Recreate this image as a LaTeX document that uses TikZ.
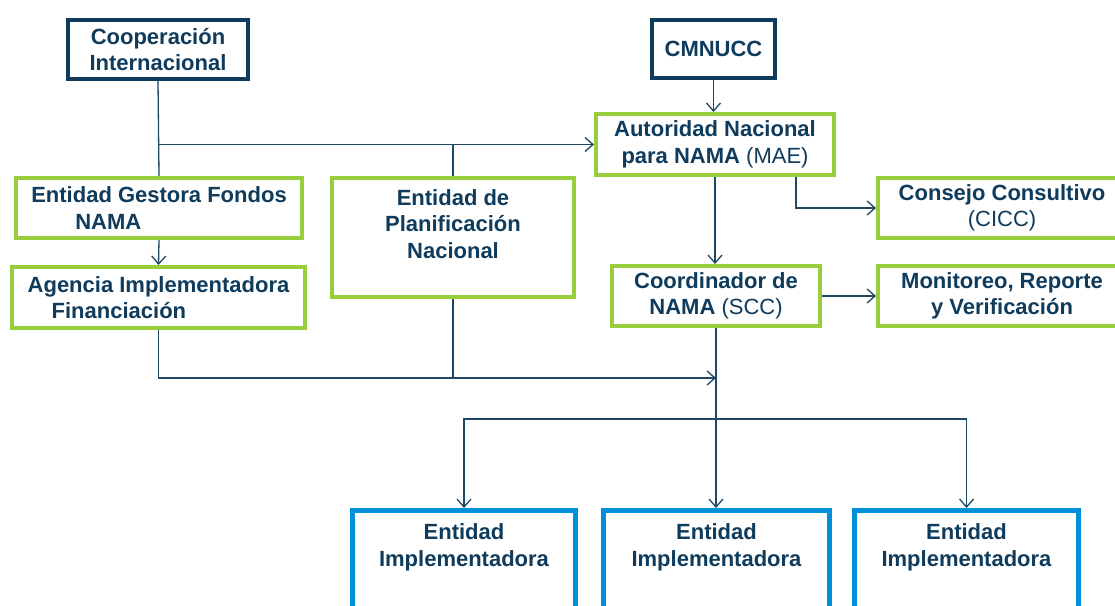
\documentclass[tikz,border=0pt]{standalone}
\usepackage{fontspec}
\setmainfont{Liberation Sans}
\usetikzlibrary{arrows.meta,calc}
\definecolor{navy}{HTML}{0F3B5C}
\definecolor{linec}{HTML}{1F4866}
\definecolor{grn}{HTML}{98CE3C}
\definecolor{blu}{HTML}{0090DA}
\tikzset{
  txt/.style={text=navy, font=\fontsize{22}{26.5}\selectfont\bfseries, align=center, inner sep=0pt},
  navybox/.style={draw=navy, line width=4pt, fill=white, inner sep=0pt, text=navy,
     font=\fontsize{22}{26.5}\selectfont\bfseries, align=center},
  gbox/.style={draw=grn, line width=4pt, fill=white, inner sep=0pt, text=navy,
     font=\fontsize{22}{26.5}\selectfont\bfseries, align=center},
  bbox/.style={draw=blu, line width=5pt, fill=white, inner sep=0pt},
  conn/.style={draw=linec, line width=1.3pt},
  arr/.style={conn, -{Straight Barb[length=8pt,width=14pt,line width=1.3pt]}},
}
\begin{document}
\begin{tikzpicture}[x=1pt,y=-1pt]
\useasboundingbox (0,0) rectangle (1115,605);
\clip (0,0) rectangle (1115,605);
% boxes
\node[navybox, minimum width=180, minimum height=59] (coop) at (158,49.5) {Cooperación\\Internacional};
\node[navybox, minimum width=123, minimum height=58] (cmn) at (713.5,49) {CMNUCC};
\node[gbox, minimum width=238, minimum height=61] (aut) at (715,144.5) {Autoridad Nacional\\para NAMA {\mdseries(MAE)}};
\node[gbox, minimum width=248, minimum height=60] (cons) at (1002,208) {Consejo Consultivo\\{\mdseries(CICC)}};
\node[gbox, minimum width=208, minimum height=60] (coord) at (716,296) {Coordinador de\\NAMA {\mdseries(SCC)}};
\node[gbox, minimum width=248, minimum height=60] (mon) at (1002,296) {Monitoreo, Reporte\\y Verificación};
\node[gbox, minimum width=286, minimum height=60, align=left] (gest) at (159,208) {Entidad Gestora Fondos\\\hspace*{44pt}NAMA};
\node[gbox, minimum width=293, minimum height=61, align=left] (agen) at (158.5,297.5) {Agencia Implementadora\\\hspace*{24pt}Financiación};
\node[gbox, minimum width=242, minimum height=119] (plan) at (453,237.5) {};
\node[txt] (plant) at (453,224) {Entidad de\\Planificación\\Nacional};
\node[bbox, minimum width=223, minimum height=140] (e1) at (464,580.5) {};
\node[bbox, minimum width=226, minimum height=140] (e2) at (716.5,580.5) {};
\node[bbox, minimum width=224, minimum height=140] (e3) at (966.5,580.5) {};
\node[txt] (e1t) at (464,547.5) {Entidad\\Implementadora};
\node[txt] (e2t) at (716.5,547.5) {Entidad\\Implementadora};
\node[txt] (e3t) at (966.5,547.5) {Entidad\\Implementadora};
% coordinates
\coordinate (mid) at ($(coord.south)+(0,50)$);
\coordinate (br) at ($(coord.south)+(0,91)$);
\coordinate (kink) at ($(aut.south)+(81,0)$);
% connectors
\draw[conn] (coop.south) -- (gest.north);
\draw[arr] (coop.south |- aut.west) -- (aut.west);
\draw[conn] (plan.north |- aut.west) -- (plan.north);
\draw[arr] (gest.south) -- (agen.north);
\draw[arr] (cmn.south) -- (cmn.south |- aut.north);
\draw[arr] (aut.south) -- (aut.south |- coord.north);
\draw[arr] (kink) |- (cons.west);
\draw[arr] (coord.east) -- (mon.west);
\draw[arr, line width=2pt] (coord.south) -- (coord.south |- e2.north);
\draw[arr] (agen.south) |- (mid);
\draw[conn] (plan.south) -- (plan.south |- mid);
\draw[arr] (br) -| (e1.north);
\draw[arr] (br) -| (e3.north);
\end{tikzpicture}
\end{document}
